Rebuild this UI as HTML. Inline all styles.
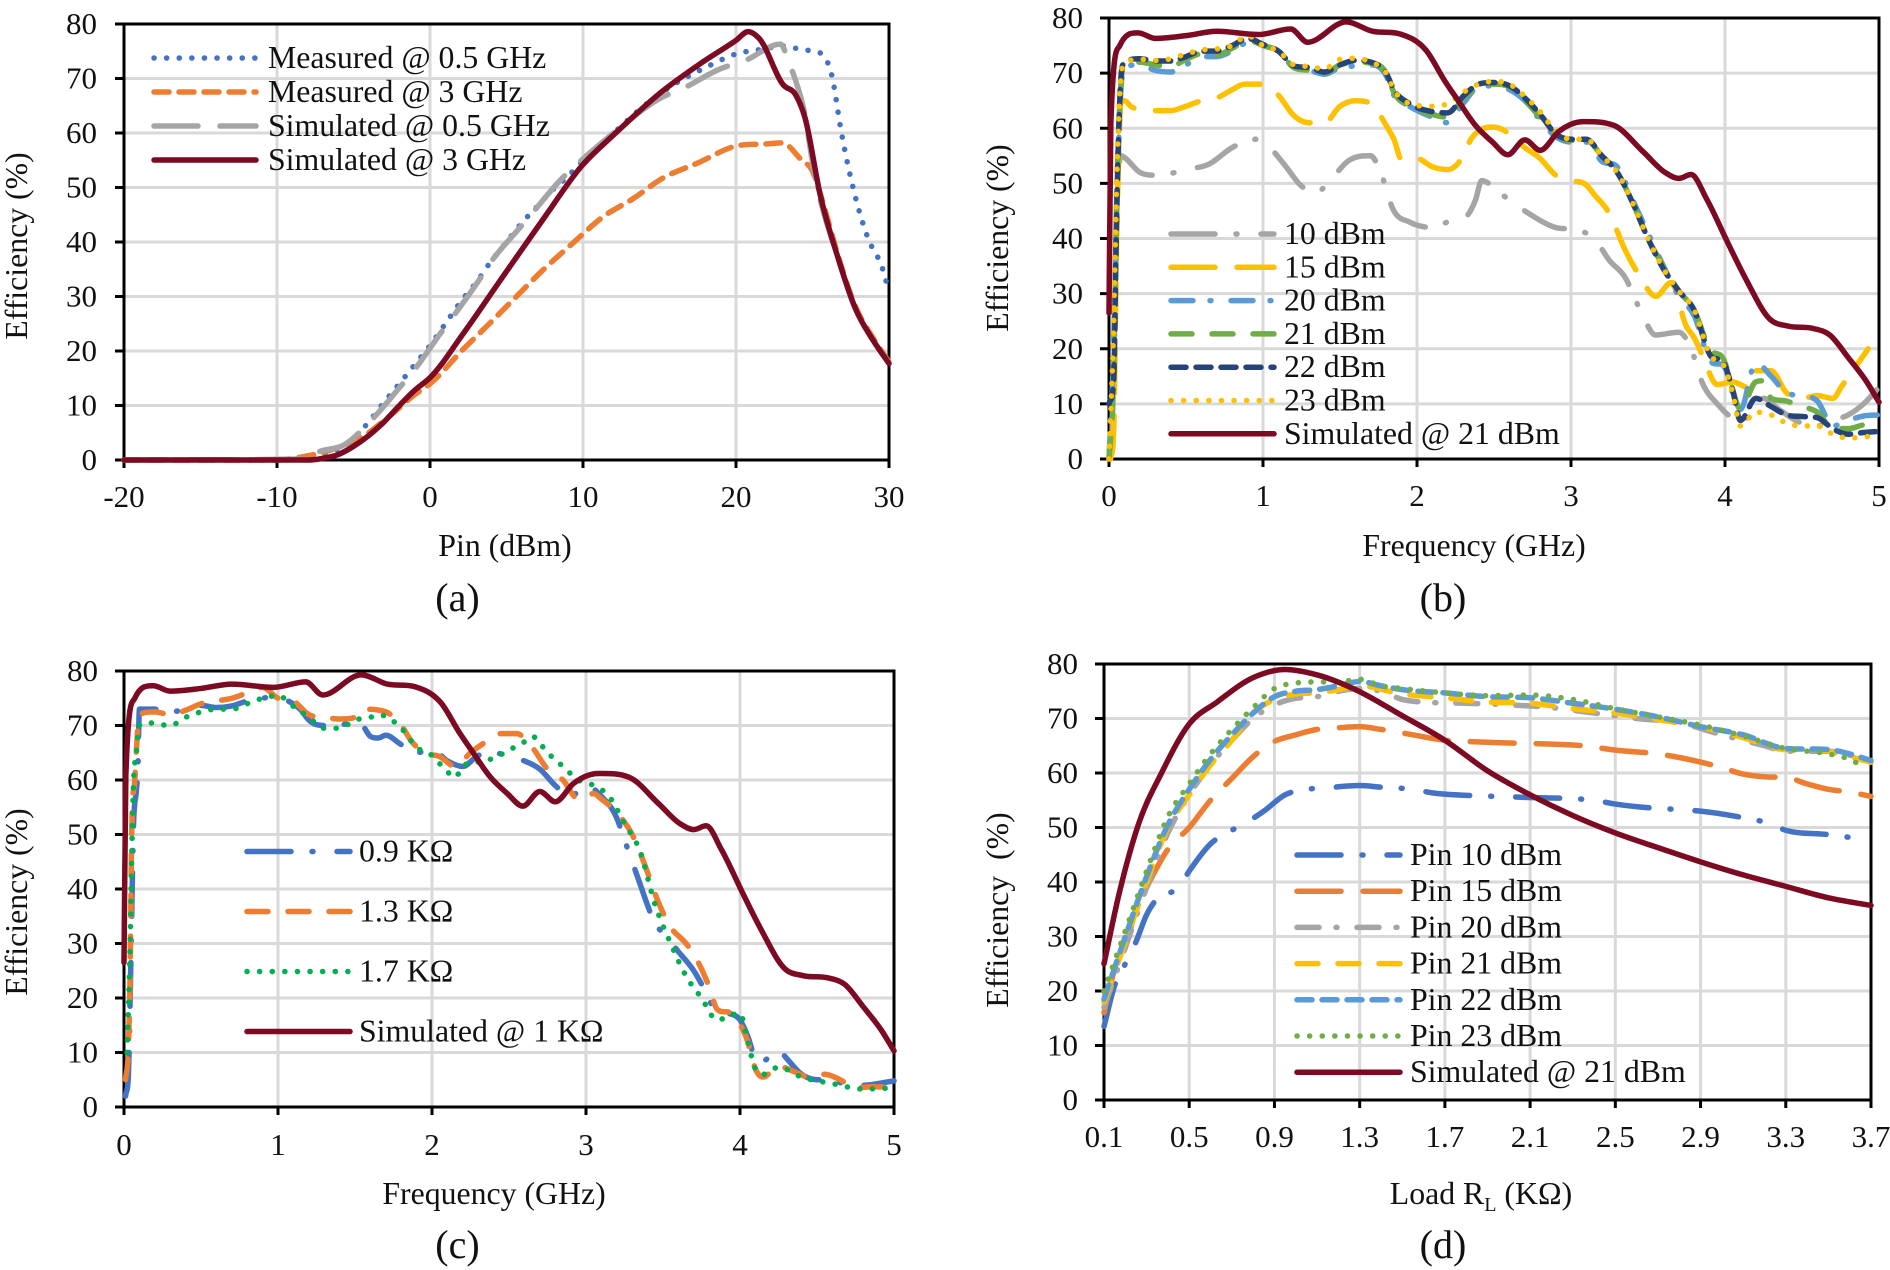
<!DOCTYPE html>
<html lang="en">
<head>
<meta charset="utf-8">
<title>Efficiency charts</title>
<style>
html,body{margin:0;padding:0;background:#fff;}
svg{display:block;font-family:"Liberation Serif","DejaVu Serif",serif;}
text{fill:#111;white-space:pre;}
</style>
</head>
<body>
<svg id="figure" xmlns="http://www.w3.org/2000/svg" width="1890" height="1270" viewBox="0 0 1890 1270"></svg>
<script>
// ---------- shared axis values ----------
const efficiencyTicks = [0,10,20,30,40,50,60,70,80];
const freqTicks = [0,1,2,3,4,5];
const pinTicks = [-20,-10,0,10,20,30];
const loadTicks = [0.1,0.5,0.9,1.3,1.7,2.1,2.5,2.9,3.3,3.7];

// ---------- panel (a) ----------
const aMeas05X = [-20,-10,-8,-7,-6,-5,-4,-3,-2,-1,0,1,2,3,4,5,6,7,8,9,10,12,14,16,18,20,22,22.9,24,25,25.55,26.25,26.9,27.7,28.6,29.6,30];
const aMeas05Y = [0,0,0.3,1,2,3.9,7,10.6,14,17.5,21,25,29,32.5,36.5,40,43.5,46.5,49.5,52,55,60,65,69,72,74.5,75.5,76,75.5,75,74.6,70.7,59.9,49.4,40.9,34.9,30.8];
const aMeas3X = [-20,-10,-9,-7.6,-6,-4.4,-2.5,-1,0,2.2,3.8,5.4,7.4,9.3,11.3,13.3,15.2,17.5,20,22,23,24.3,25,25.5,26.7,27.8,29,30];
const aMeas3Y = [0,0,0.3,1,2.3,4.3,8.4,12,14,20.4,24.8,29.3,34.9,39.7,44.6,48,51.7,54.5,57.6,58,58.2,55,53,48.9,37.2,28.2,22.2,18];
const aSim05X = [-20,-8,-7.4,-5.6,-3.7,-1.9,-0.9,0.7,1.5,3.2,4,5.8,6.8,8.5,9.9,12,15.2,16.4,19,20.6,22.9,23.5,23.9,24.4,25.1,26.7,27.8,29,30];
const aSim05Y = [0,0.2,1.3,2.8,7.7,13.6,17,23.3,26.3,33,36.4,42.4,45.7,51.3,55,60,66.6,68,71.8,73.3,76.3,72.6,69.6,64.7,53,36.8,27.8,21.8,17.7];
const aSim3X = [-20,-8,-7,-6,-5,-4,-3,-2,-1,0,2.2,4.6,7.4,9.9,12.1,15.2,17.6,20,20.8,21.5,23.1,23.9,24.5,25.5,26.7,27.8,29,30];
const aSim3Y = [0,0,0.3,1,2.5,4.5,7,10,12.8,15.1,23.3,33,44.2,53.9,59.9,67.7,72.6,77,78.6,77.4,68.8,67,62.9,48.7,36.8,27.8,21.8,17.7];

// ---------- panel (b) ----------
const bSimX = [0,0.012,0.07,0.19,0.3,0.5,0.7,0.97,1.18,1.29,1.54,1.71,1.89,2.06,2.18,2.26,2.38,2.49,2.59,2.7,2.8,2.92,3.08,3.28,3.47,3.61,3.7,3.78,3.88,4.02,4.14,4.29,4.41,4.57,4.68,4.8,4.92,5];
const bSimY = [26.5,61,75,77.3,76.3,76.8,77.6,77,78,75.6,79.3,77.6,77.1,74.1,68.6,65.3,60.5,57.5,55.2,57.9,56,59.4,61.2,60.5,55.7,52,50.9,51.6,47.2,39.1,32.4,25.4,24.1,23.7,22.5,18.4,14,10.3];
const b10X = [0.02,0.05,0.08,0.1,0.2,0.3,0.4,0.5,0.65,0.8,0.95,1.05,1.15,1.25,1.35,1.45,1.55,1.7,1.75,1.85,1.95,2.1,2.2,2.3,2.38,2.42,2.55,2.7,2.9,3.05,3.15,3.25,3.35,3.45,3.55,3.7,3.78,3.85,3.95,4.1,4.2,4.25,4.35,4.5,4.6,4.7,4.8,4.9,5];
const b10Y = [5,45,55,54.7,52,51.5,51.8,52.5,53.5,56.5,58,56.3,53,49.5,48.5,51,54,55,53,45,43,42,43,43.5,47,50.5,48,45,42,41.5,40,36,33,27,22.5,23,20,14,10,7,9,11,9,6.5,6,7,8,10,13];
const b15X = [0.01,0.03,0.05,0.08,0.1,0.15,0.3,0.4,0.5,0.6,0.7,0.8,0.88,1,1.1,1.2,1.3,1.4,1.5,1.6,1.7,1.8,1.85,1.9,2,2.1,2.2,2.3,2.35,2.4,2.5,2.6,2.7,2.8,2.9,3,3.1,3.15,3.25,3.35,3.45,3.55,3.65,3.75,3.8,3.85,3.95,4.05,4.15,4.2,4.3,4.4,4.5,4.6,4.7,4.76,4.93];
const b15Y = [0,5,40,65,65,63.8,63.2,63.2,64,65,65.5,67,68,68,66,62.3,61,61,64,65,64.5,60.5,58,54.3,54.5,53,52.5,55,58,59.5,60.2,59,56.5,54.5,51.5,50.5,49.7,48,44.5,38,33,29.5,32,24,22,19,13.5,14,13,16,16,12,11,11.5,11,13.3,20];
const b20X = [0,0.03,0.05,0.08,0.1,0.2,0.3,0.4,0.5,0.6,0.7,0.8,0.9,1,1.1,1.2,1.3,1.4,1.5,1.6,1.7,1.8,1.85,1.95,2.1,2.2,2.3,2.4,2.5,2.6,2.7,2.8,2.9,3,3.1,3.2,3.3,3.4,3.5,3.6,3.7,3.8,3.9,4,4.05,4.1,4.2,4.3,4.4,4.5,4.6,4.7,4.8,4.9,5];
const b20Y = [0,20,45,68,71,71.5,70.5,70.2,71.5,73,73,74,75.5,75,74,71,70.5,69.8,71,71.3,71.5,69.5,66,64,62,61,64.5,67.5,67.7,67,65,61.5,58.5,57.5,57.5,54,53,47,41,35,29.5,26,18,16.5,12,9,17.5,15,12,11.5,10.5,6,7,7.8,8];
const b21X = [0,0.03,0.05,0.08,0.1,0.2,0.3,0.4,0.5,0.6,0.7,0.8,0.9,1,1.1,1.2,1.3,1.4,1.5,1.6,1.7,1.8,1.85,1.95,2.1,2.2,2.3,2.4,2.5,2.6,2.7,2.8,2.9,3,3.1,3.2,3.3,3.4,3.5,3.6,3.7,3.8,3.9,4,4.05,4.1,4.2,4.25,4.3,4.4,4.5,4.6,4.7,4.8,4.9,5];
const b21Y = [0,15,47,69,71.5,72,71.5,71.2,72.5,73.5,73.3,74.5,76,75,74,71,70.5,70,71.5,72,71.8,70,66.5,64,62.5,62,65.5,67.5,68,67.5,65,62,59,57.8,57.8,55,52,46.5,40,35,30.5,27,20,17.5,12.5,9,14,14.2,11,10.5,9.5,8.5,5.5,5.5,6.2,6.5];
const b22X = [0,0.03,0.05,0.08,0.1,0.2,0.3,0.4,0.5,0.6,0.7,0.8,0.9,1,1.1,1.2,1.3,1.4,1.5,1.6,1.7,1.8,1.85,1.95,2.1,2.2,2.3,2.4,2.5,2.6,2.7,2.8,2.9,3,3.1,3.2,3.3,3.4,3.5,3.6,3.7,3.8,3.9,4,4.05,4.1,4.2,4.3,4.4,4.5,4.6,4.7,4.8,4.9,5];
const b22Y = [10,14,45,70,71.8,72.6,72.2,72.2,73,74,74,75,76.3,75.2,74,71.3,71,70.2,71.5,72.3,72,70,67,64.5,63,62.8,65.8,68,68.3,67.7,65.5,62.5,59,58,58,55,52,46.5,40,34.5,30.5,27,19,17,12.5,7,11,9.5,8,7.7,7.5,5.5,4.5,4.8,5];
const b23X = [0,0.03,0.05,0.08,0.1,0.2,0.3,0.4,0.5,0.6,0.7,0.8,0.9,1,1.1,1.2,1.3,1.4,1.5,1.6,1.7,1.8,1.85,1.95,2.1,2.2,2.3,2.4,2.5,2.6,2.7,2.8,2.9,3,3.1,3.2,3.3,3.4,3.5,3.6,3.7,3.8,3.9,4,4.05,4.1,4.2,4.3,4.4,4.5,4.6,4.7,4.8,4.9,5];
const b23Y = [0,24,50,70,71.5,72.5,72.3,72.6,73.5,74.2,74.4,75,76.8,75,74,71.5,71.2,70.8,72.5,72.7,72,70,67,64.5,64,64.5,66.5,68,68.5,68,65.8,63,59.5,58,58,55,52,46.5,40,34.5,30.5,27,19,16.5,12,6,8.5,8,6.5,6,6,4.5,3.8,4,4.2];

// ---------- panel (c) ----------
const c09X = [0.01,0.03,0.04,0.05,0.06,0.08,0.09,0.1,0.2,0.3,0.4,0.5,0.6,0.7,0.8,0.9,0.97,1.05,1.15,1.2,1.3,1.4,1.5,1.55,1.6,1.65,1.7,1.8,1.9,2,2.1,2.2,2.3,2.4,2.5,2.6,2.7,2.8,2.9,3,3.1,3.2,3.25,3.3,3.35,3.4,3.45,3.5,3.6,3.7,3.78,3.85,3.95,4,4.05,4.1,4.15,4.25,4.3,4.4,4.5,4.6,4.7,4.8,5];
const c09Y = [2,7,20,35,50,58,62,73,73,72.5,73,73.7,73.3,73.6,74.5,75,75.3,74.7,72.8,71,70,70,71,70,68,67.7,68.2,66.5,65,65.7,63.5,62.5,64.5,65,64.3,63.5,62,59,57,59,57,53,49,45,41,37,33.5,32,28.5,25,21,17.3,17,16,13,9,8.5,10.5,9,6,5,5,4,4,4.8];
const c13X = [0.01,0.03,0.04,0.05,0.07,0.1,0.2,0.3,0.4,0.5,0.6,0.7,0.8,0.9,1,1.1,1.2,1.3,1.4,1.5,1.55,1.7,1.8,1.87,1.95,2.05,2.15,2.25,2.35,2.45,2.55,2.65,2.75,2.85,2.95,3.05,3.1,3.2,3.3,3.4,3.45,3.55,3.65,3.7,3.8,3.85,3.95,4.05,4.1,4.15,4.25,4.35,4.45,4.55,4.65,4.75,4.85,5];
const c13Y = [5,12,25,50,60,72,72.5,72,72.8,74,74.5,75,76,77,75,74.5,72,71.5,71.2,71.5,73,72.5,70,67,65,64.3,62.5,65,67,68.5,68.5,66,62,60,56.5,57.5,56.5,54,50,43,39,33,30,28,22,18,17,12,7,5.5,7.5,6.5,5.5,6,5,3.5,3.7,3.7];
const c17X = [0.02,0.04,0.05,0.06,0.08,0.1,0.15,0.3,0.4,0.5,0.6,0.7,0.8,0.9,1,1.1,1.2,1.3,1.4,1.5,1.6,1.65,1.8,1.9,2,2.1,2.15,2.2,2.3,2.4,2.5,2.6,2.65,2.75,2.85,2.95,3.05,3.15,3.25,3.35,3.45,3.55,3.65,3.75,3.85,4,4.05,4.1,4.15,4.25,4.4,4.6,4.8,5];
const c17Y = [10,30,46,58,65,70,70.5,70,71.5,72.5,73,73,74,75,75.5,73.5,71.5,69.5,69.5,71,71.5,72,69.5,66,64.5,61.5,60.5,62.5,63.3,64,65.5,67,68,65,62.5,60,59,57,52,47,37,30,24,20,16,17.2,12,7,6,7.3,5.5,4.3,3.3,3.5];
const cSimX = [0,0.012,0.07,0.19,0.3,0.5,0.7,0.97,1.18,1.29,1.54,1.71,1.89,2.06,2.18,2.26,2.38,2.49,2.59,2.7,2.8,2.92,3.08,3.28,3.47,3.61,3.7,3.78,3.88,4.02,4.14,4.29,4.41,4.57,4.68,4.8,4.92,5];
const cSimY = [26.5,61,75,77.3,76.3,76.8,77.6,77,78,75.6,79.3,77.6,77.1,74.1,68.6,65.3,60.5,57.5,55.2,57.9,56,59.4,61.2,60.5,55.7,52,50.9,51.6,47.2,39.1,32.4,25.4,24.1,23.7,22.5,18.4,14,10.3];

// ---------- panel (d) ----------
const d10X = [0.1,0.15,0.2,0.25,0.3,0.35,0.45,0.5,0.6,0.7,0.75,0.85,0.95,1.05,1.15,1.3,1.4,1.55,1.65,1.8,1.95,2.1,2.3,2.4,2.5,2.7,2.8,2.9,3.1,3.2,3.3,3.5,3.6,3.65];
const d10Y = [13.5,21,25,29,34,37,39,42,47,49.5,50.5,53,56,57,57.3,57.7,57.4,57,56.3,55.9,55.7,55.5,55.3,55,54.3,53.5,53.3,53,51.8,51,49.5,48.7,48.2,48];
const d15X = [0.1,0.15,0.2,0.25,0.3,0.4,0.5,0.6,0.7,0.8,0.9,1,1.1,1.2,1.3,1.4,1.55,1.7,1.8,2,2.2,2.35,2.5,2.7,2.9,3,3.1,3.2,3.3,3.4,3.5,3.6,3.7];
const d15Y = [16,24,28,35,39,46,50,55,59,63,65.8,67,68,68.3,68.5,68,67,66,65.8,65.5,65.3,65,64.2,63.5,62,61,59.8,59.3,59.2,58,57,56.5,55.7];
const d20X = [0.1,0.2,0.3,0.4,0.5,0.6,0.7,0.8,0.9,1,1.1,1.2,1.3,1.4,1.5,1.6,1.8,2,2.2,2.4,2.6,2.8,3,3.2,3.3,3.5,3.7];
const d20Y = [17,28,39,49,56,61.5,66,70,72.5,73.7,74,75,75.5,75,73.5,73,72.8,72.5,72,71,70,69.2,67,65,64,64,62];
const d21X = [0.1,0.2,0.3,0.4,0.5,0.6,0.7,0.8,0.9,1,1.1,1.2,1.3,1.5,1.7,1.9,2.1,2.3,2.5,2.7,2.9,3.1,3.3,3.4,3.5,3.6,3.7];
const d21Y = [18,29,40,50,56,61.5,66,71,73.5,74.5,74.7,75.3,76,74.5,73.8,73,72.8,71.8,71,69.8,68.5,66.5,64.3,64.5,64,63,62];
const d22X = [0.1,0.2,0.3,0.4,0.5,0.6,0.7,0.8,0.9,1,1.1,1.2,1.3,1.4,1.5,1.7,1.9,2.1,2.3,2.5,2.7,2.9,3.1,3.3,3.5,3.6,3.7];
const d22Y = [18.5,30,41,50.5,57,62.5,67,71,74,75,75.3,76,76.8,76,75.3,74.7,74,73.8,72.8,71.7,70.3,68.5,67,64.5,64.3,63.5,62.3];
const d23X = [0.1,0.2,0.3,0.4,0.5,0.6,0.7,0.8,0.9,1,1.1,1.2,1.3,1.4,1.5,1.7,1.9,2.1,2.3,2.5,2.7,2.9,3.1,3.3,3.5,3.6,3.65];
const d23Y = [20,31,42,52,58,63.5,68,72,75.5,76.5,76.7,76.7,77.2,76,75.5,74.7,74.2,74.3,73.5,71.8,70.3,68.8,66.8,64.5,63.5,62.5,61.5];
const dSimX = [0.1,0.17,0.26,0.37,0.5,0.63,0.8,0.95,1.11,1.28,1.5,1.7,1.9,2.1,2.3,2.5,2.7,2.9,3.1,3.3,3.5,3.7];
const dSimY = [25,37.7,50.4,60,69,73,77.5,79,77.9,75.3,70.5,66,60.4,56,52.2,49,46.3,43.7,41.3,39.2,37.1,35.7];

// ---------- line styles ----------
const DOT = '0.1 12.5', SYSDASH = '15 10', DASH = '21 20', LONG = '44 22', LONGDOT = '44 21 1 24', DASHDOT = '22 17 1 20';
const BLUE='#4472c4', ORANGE='#ed7d31', GRAY='#a5a5a5', GOLD='#ffc000', SKY='#5b9bd5', LEAF='#70ad47', NAVY='#264478', MAROON='#7b0a22', EMERALD='#00b050';

const panels = [
 { id:'a', caption:'(a)', capX:457.5, capY:599,
   left:124, right:889, top:24, bottom:460,
   xMin:-20, xMax:30, xTicks:pinTicks, xDec:0,
   yRight:97, yTitle:'Efficiency (%)', yTitleX:17, yTitleY:246,
   xTickY:497, xTitle:'Pin (dBm)', xTitleX:505, xTitleY:546,
   legX:154, legX2:256, legTextX:268, legY:58, legStep:34,
   series:[
    {label:'Measured @ 0.5 GHz', x:aMeas05X, y:aMeas05Y, color:BLUE, dash:DOT},
    {label:'Measured @ 3 GHz', x:aMeas3X, y:aMeas3Y, color:ORANGE, dash:SYSDASH},
    {label:'Simulated @ 0.5 GHz', x:aSim05X, y:aSim05Y, color:GRAY, dash:LONG},
    {label:'Simulated @ 3 GHz', x:aSim3X, y:aSim3Y, color:MAROON, dash:''}
   ]},
 { id:'b', caption:'(b)', capX:1443, capY:599,
   left:1109, right:1879, top:18, bottom:459,
   xMin:0, xMax:5, xTicks:freqTicks, xDec:0,
   yRight:1083, yTitle:'Efficiency (%)', yTitleX:998, yTitleY:238,
   xTickY:496, xTitle:'Frequency (GHz)', xTitleX:1474, xTitleY:546,
   legX:1171, legX2:1274, legTextX:1284, legY:234, legStep:33.3,
   series:[
    {label:'10 dBm', x:b10X, y:b10Y, color:GRAY, dash:LONGDOT},
    {label:'15 dBm', x:b15X, y:b15Y, color:GOLD, dash:LONG},
    {label:'20 dBm', x:b20X, y:b20Y, color:SKY, dash:DASHDOT},
    {label:'21 dBm', x:b21X, y:b21Y, color:LEAF, dash:DASH},
    {label:'22 dBm', x:b22X, y:b22Y, color:NAVY, dash:SYSDASH},
    {label:'23 dBm', x:b23X, y:b23Y, color:GOLD, dash:DOT},
    {label:'Simulated @ 21 dBm', x:bSimX, y:bSimY, color:MAROON, dash:''}
   ]},
 { id:'c', caption:'(c)', capX:457.5, capY:1246,
   left:124, right:894, top:671, bottom:1107,
   xMin:0, xMax:5, xTicks:freqTicks, xDec:0,
   yRight:98, yTitle:'Efficiency (%)', yTitleX:17, yTitleY:902,
   xTickY:1145, xTitle:'Frequency (GHz)', xTitleX:494, xTitleY:1194,
   legX:247, legX2:350, legTextX:359, legY:851.5, legStep:60,
   series:[
    {label:'0.9 KΩ', x:c09X, y:c09Y, color:BLUE, dash:LONGDOT},
    {label:'1.3 KΩ', x:c13X, y:c13Y, color:ORANGE, dash:DASH},
    {label:'1.7 KΩ', x:c17X, y:c17Y, color:EMERALD, dash:DOT},
    {label:'Simulated @ 1 KΩ', x:cSimX, y:cSimY, color:MAROON, dash:''}
   ]},
 { id:'d', caption:'(d)', capX:1443, capY:1246,
   left:1104, right:1871, top:664, bottom:1100,
   xMin:0.1, xMax:3.7, xTicks:loadTicks, xDec:1,
   yRight:1078, yTitle:'Efficiency  (%)', yTitleX:998, yTitleY:910,
   xTickY:1137, xTitle:'Load R<tspan font-size="20" dy="7">L</tspan><tspan dy="-7"> (KΩ)</tspan>', xTitleX:1481, xTitleY:1194,
   legX:1297, legX2:1400, legTextX:1410, legY:855, legStep:36.2,
   series:[
    {label:'Pin 10 dBm', x:d10X, y:d10Y, color:BLUE, dash:LONGDOT},
    {label:'Pin 15 dBm', x:d15X, y:d15Y, color:ORANGE, dash:LONG},
    {label:'Pin 20 dBm', x:d20X, y:d20Y, color:GRAY, dash:DASHDOT},
    {label:'Pin 21 dBm', x:d21X, y:d21Y, color:GOLD, dash:DASH},
    {label:'Pin 22 dBm', x:d22X, y:d22Y, color:SKY, dash:SYSDASH},
    {label:'Pin 23 dBm', x:d23X, y:d23Y, color:LEAF, dash:DOT},
    {label:'Simulated @ 21 dBm', x:dSimX, y:dSimY, color:MAROON, dash:''}
   ]}
];

const NS = 'http://www.w3.org/2000/svg';
const TICK_FONT = 31;
const LABEL_FONT = 31.8;
const LINE_W = 5.5;
const root = document.getElementById('figure');

function make(parent, tag, attrs) {
  const el = document.createElementNS(NS, tag);
  for (const k in attrs) el.setAttribute(k, attrs[k]);
  parent.appendChild(el);
  return el;
}

function slug(s) {
  return s.toLowerCase().replace(/ω/g,'kohm').replace(/[^a-z0-9]+/g,'-').replace(/^-|-$/g,'');
}

// Smooth cubic through the data points, with mild slope limiting (Excel-like smoothing)
function smoothPath(px, py) {
  const n = px.length;
  if (n < 2) return '';
  const m = [];
  for (let i = 0; i < n - 1; i++) m.push((py[i+1]-py[i]) / ((px[i+1]-px[i]) || 1e-6));
  const t = [m[0]];
  for (let i = 1; i < n - 1; i++) {
    const h0 = px[i]-px[i-1], h1 = px[i+1]-px[i];
    if (m[i-1]*m[i] <= 0) { t.push(0); continue; }
    const p = (m[i-1]*h1 + m[i]*h0) / ((h0+h1) || 1e-6);
    const lim = 3.2*Math.min(Math.abs(m[i-1]), Math.abs(m[i]));
    t.push(Math.sign(m[i]) * Math.min(Math.abs(p), lim));
  }
  t.push(m[n-2]);
  let d = 'M' + px[0].toFixed(2) + ' ' + py[0].toFixed(2);
  for (let i = 0; i < n - 1; i++) {
    const h = (px[i+1]-px[i]) / 3;
    d += 'C' + (px[i]+h).toFixed(2) + ' ' + (py[i]+t[i]*h).toFixed(2) + ' ' +
         (px[i+1]-h).toFixed(2) + ' ' + (py[i+1]-t[i+1]*h).toFixed(2) + ' ' +
         px[i+1].toFixed(2) + ' ' + py[i+1].toFixed(2);
  }
  return d;
}

function drawPanel(p) {
  const xScale = v => p.left + (v - p.xMin) / (p.xMax - p.xMin) * (p.right - p.left);
  const yScale = v => p.bottom - v / 80 * (p.bottom - p.top);

  const g = make(root, 'g', {});
  
  

  // gridlines
  const grid = make(g, 'g', {stroke:'#d9d9d9','stroke-width':3});
  
  
  efficiencyTicks.forEach(v => { if (v > 0 && v < 80) make(grid, 'line', {x1:p.left, x2:p.right, y1:yScale(v), y2:yScale(v)}); });
  p.xTicks.forEach(v => { if (v > p.xMin && v < p.xMax) make(grid, 'line', {x1:xScale(v), x2:xScale(v), y1:p.top, y2:p.bottom}); });

  // axes and frame
  const frame = make(g, 'rect', {x:p.left, y:p.top, width:p.right-p.left, height:p.bottom-p.top, fill:'none', stroke:'#000', 'stroke-width':3});
  
  

  // y ticks
  efficiencyTicks.forEach(v => {
    make(g, 'line', {x1:p.left-9, x2:p.left, y1:yScale(v), y2:yScale(v), stroke:'#000', 'stroke-width':3});
    const t = make(g, 'text', {x:p.yRight, y:yScale(v)+10, 'text-anchor':'end', 'font-size':TICK_FONT});
    t.textContent = v;
    
    
  });

  // x ticks
  p.xTicks.forEach(v => {
    make(g, 'line', {x1:xScale(v), x2:xScale(v), y1:p.bottom, y2:p.bottom+8, stroke:'#000', 'stroke-width':3});
    const t = make(g, 'text', {x:xScale(v), y:p.xTickY+10, 'text-anchor':'middle', 'font-size':TICK_FONT});
    t.textContent = v.toFixed(p.xDec);
    
    
  });

  // axis titles and caption
  const yt = make(g, 'text', {transform:'translate(' + (p.yTitleX+10) + ' ' + p.yTitleY + ') rotate(-90)', 'text-anchor':'middle', 'font-size':LABEL_FONT});
  yt.textContent = p.yTitle;
  
  

  const xt = make(g, 'text', {x:p.xTitleX, y:p.xTitleY+10, 'text-anchor':'middle', 'font-size':LABEL_FONT});
  xt.innerHTML = p.xTitle;
  
  

  const cap = make(g, 'text', {x:p.capX, y:p.capY+12, 'text-anchor':'middle', 'font-size':40});
  cap.textContent = p.caption;
  
  

  // series
  p.series.forEach(s => {
    const style = {fill:'none', stroke:s.color, 'stroke-width':LINE_W, 'stroke-linecap':'round', 'stroke-linejoin':'round'};
    if (s.dash) style['stroke-dasharray'] = s.dash;
    style.d = smoothPath(s.x.map(xScale), s.y.map(yScale));
    const path = make(g, 'path', style);
    
    
  });

  // legend
  const leg = make(g, 'g', {});
  
  
  p.series.forEach((s, i) => {
    const ly = p.legY + i * p.legStep;
    const style = {x1:p.legX, x2:p.legX2, y1:ly, y2:ly, stroke:s.color, 'stroke-width':LINE_W, 'stroke-linecap':'round'};
    if (s.dash) style['stroke-dasharray'] = s.dash;
    const sw = make(leg, 'line', style);
    
    
    const t = make(leg, 'text', {x:p.legTextX, y:ly+10, 'font-size':LABEL_FONT});
    t.textContent = s.label;
    
    
  });
}

panels.forEach(drawPanel);
</script>
</body>
</html>
